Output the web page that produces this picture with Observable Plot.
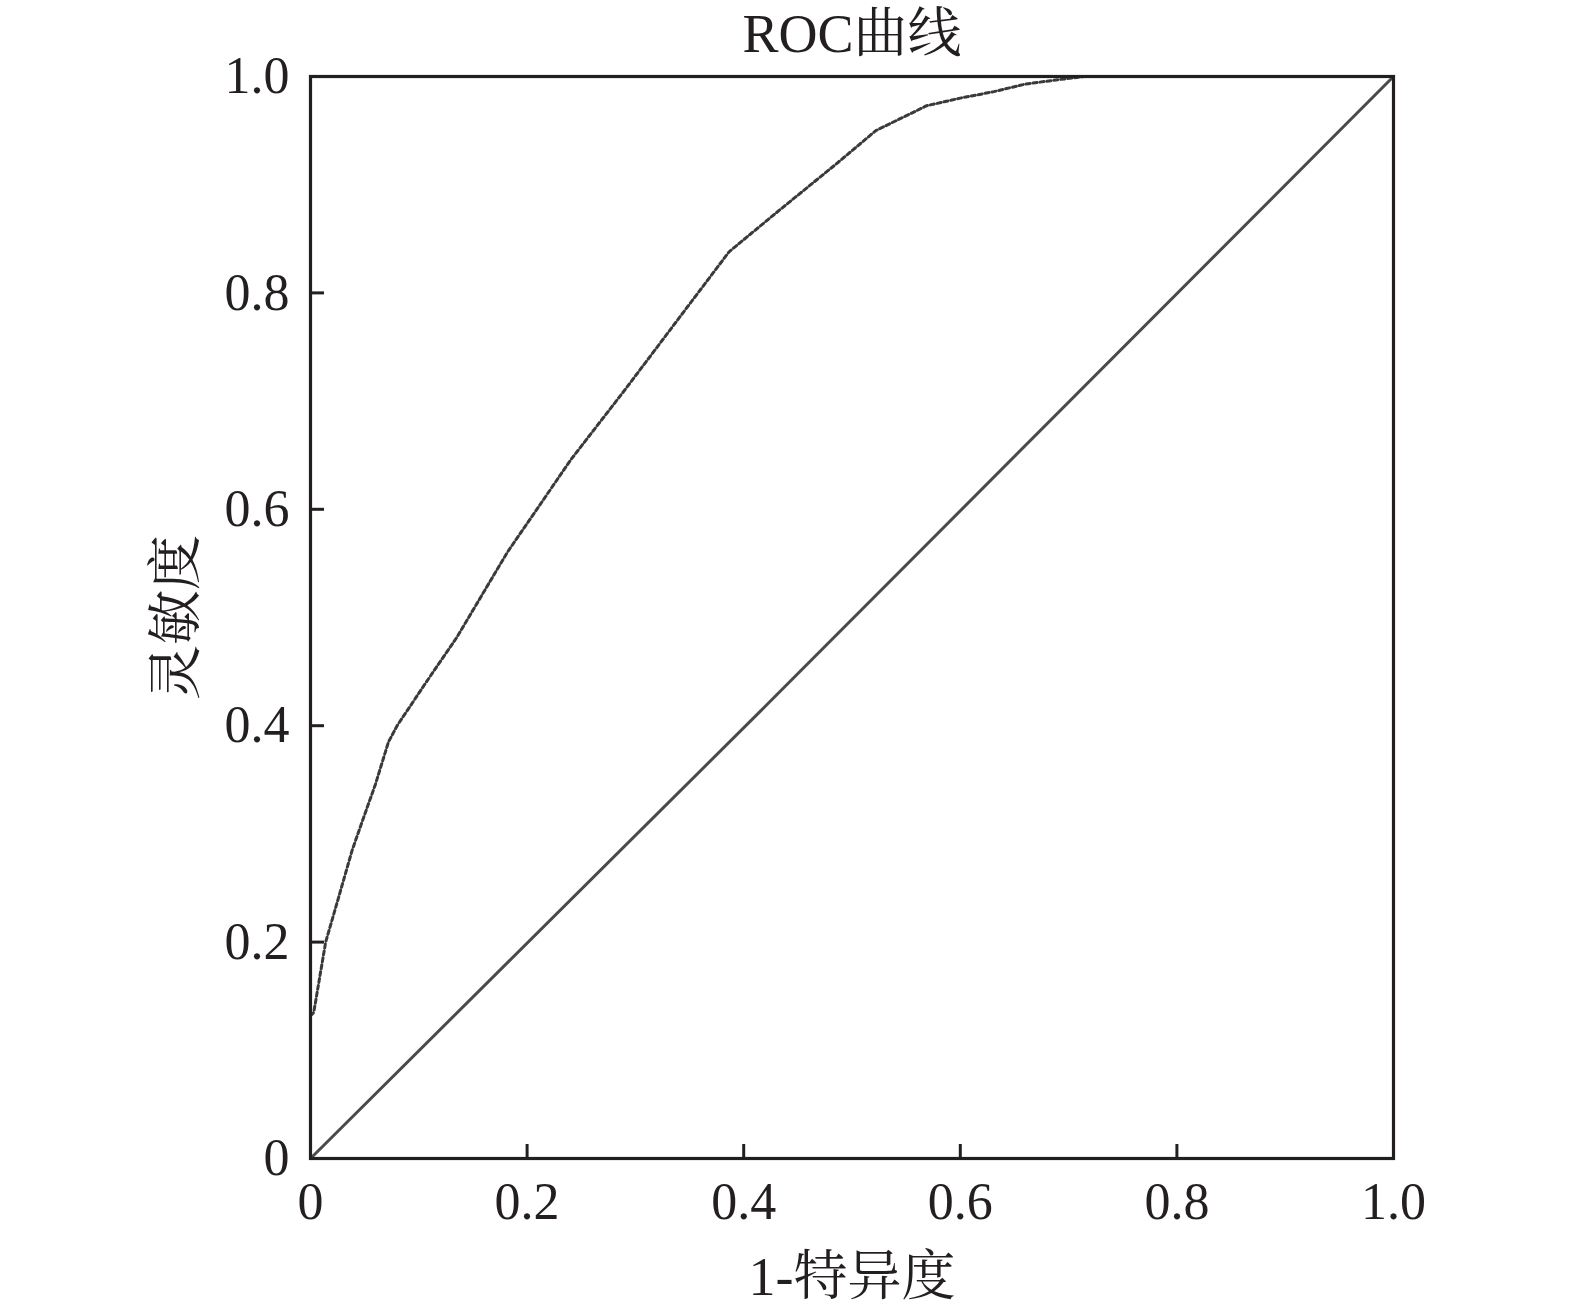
<!DOCTYPE html>
<html>
<head>
<meta charset="utf-8">
<script src="https://cdn.jsdelivr.net/npm/d3@7"></script>
<script src="https://cdn.jsdelivr.net/npm/@observablehq/plot@0.6"></script>
<style>
  html, body { margin: 0; padding: 0; background: #fff; }
  #chart svg { display: block; }
</style>
</head>
<body>
<div id="chart"></div>
<script>
const title = "ROC曲线";
const xLabel = "1-特异度";
const yLabel = "灵敏度";

const rocFpr = [0, 0.003, 0.014, 0.025, 0.0385, 0.049, 0.060, 0.072, 0.080, 0.106, 0.135, 0.182, 0.2405, 0.29, 0.3465, 0.3865, 0.430, 0.484, 0.522, 0.569, 0.600, 0.631, 0.660, 0.690, 0.715, 1];
const rocTpr = [0.132, 0.135, 0.2, 0.238, 0.285, 0.315, 0.346, 0.385, 0.40, 0.439, 0.4815, 0.5606, 0.646, 0.71, 0.785, 0.838, 0.874, 0.918, 0.950, 0.973, 0.980, 0.986, 0.993, 0.997, 1.0, 1.0];

const refX = [0, 0.415, 0.422, 1];
const refY = [0, 0.413, 0.420, 1];

const tickValues = [0, 0.2, 0.4, 0.6, 0.8, 1.0];
const tickLabels = ["0", "0.2", "0.4", "0.6", "0.8", "1.0"];

const roc = rocFpr.map((x, i) => ({x, y: rocTpr[i]}));
const ref = refX.map((x, i) => ({x, y: refY[i]}));
const fmt = d => tickLabels[tickValues.findIndex(v => Math.abs(v - d) < 1e-9)];

const font = "'Liberation Serif', 'Noto Serif CJK SC', 'Noto Sans CJK SC', serif";
const ink = "#231f20";

const chart = Plot.plot({
  width: 1575,
  height: 1314,
  marginLeft: 310,
  marginRight: 182,
  marginTop: 76,
  marginBottom: 156,
  style: { fontFamily: font, fontSize: "52px", color: ink, background: "#fff", overflow: "visible" },
  x: { domain: [0, 1], label: null },
  y: { domain: [0, 1], label: null },
  marks: [
    Plot.line(ref, { x: "x", y: "y", stroke: "#4a4a4a", strokeWidth: 3 }),
    Plot.line(roc, { x: "x", y: "y", stroke: "#3a3a3a", strokeWidth: 3, strokeDasharray: "4 3" }),
    Plot.frame({ stroke: ink, strokeWidth: 3.2 }),
    Plot.axisX({ ticks: tickValues, tickFormat: fmt, tickSize: -14, tickPadding: 38, stroke: ink, strokeWidth: 3, fontSize: 52, label: null }),
    Plot.axisY({ ticks: tickValues, tickFormat: fmt, tickSize: -14, tickPadding: 35, stroke: ink, strokeWidth: 3, fontSize: 52, label: null }),
    Plot.text([title], { frameAnchor: "top", dy: -63, text: d => d, fontSize: 54, fill: ink }),
    Plot.text([xLabel], { frameAnchor: "bottom", dy: 136, text: d => d, fontSize: 54, fill: ink }),
    Plot.text([yLabel], { frameAnchor: "left", textAnchor: "middle", lineAnchor: "middle", dx: -134, rotate: -90, text: d => d, fontSize: 55, fill: ink })
  ]
});
document.getElementById("chart").appendChild(chart);
</script>
</body>
</html>
